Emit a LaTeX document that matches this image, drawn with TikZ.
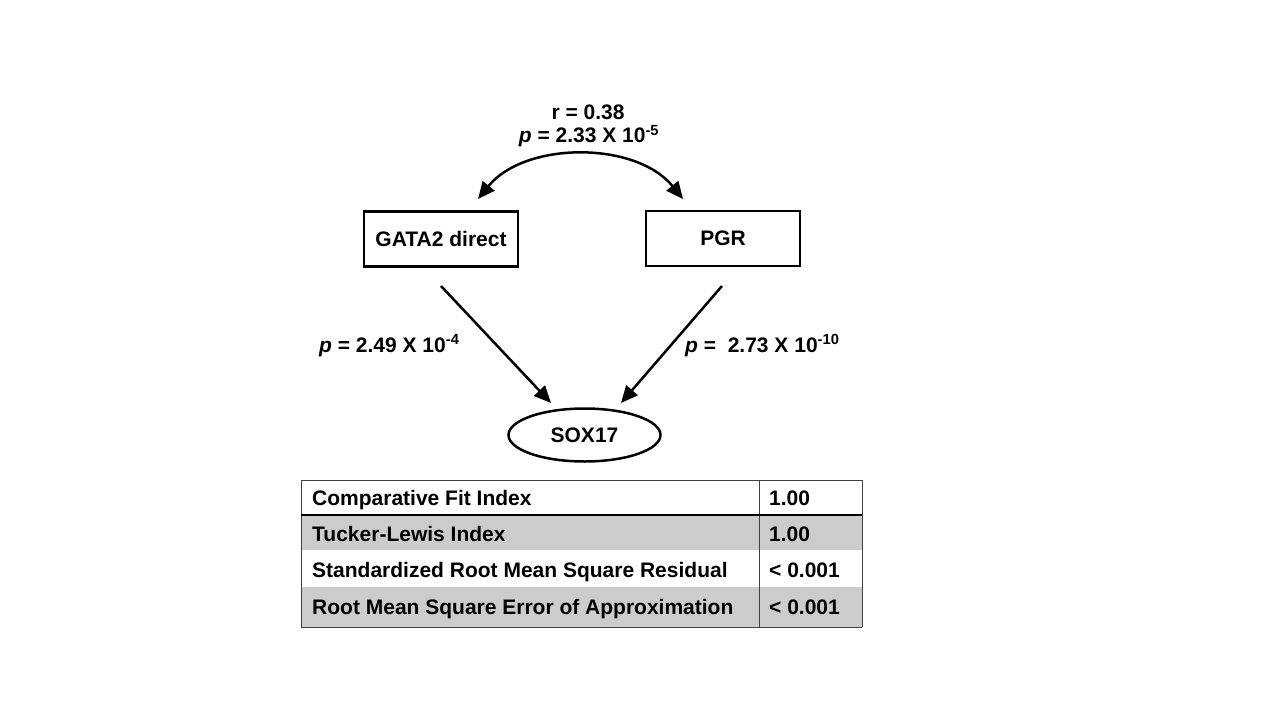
\documentclass[tikz,border=0pt]{standalone}
\usepackage{fontspec}
\setmainfont{Liberation Sans}
\usetikzlibrary{shapes.geometric,arrows.meta}
\begin{document}
\begin{tikzpicture}[x=1pt,y=-1pt,
  fnt/.style={font=\fontsize{21}{24}\selectfont\bfseries},
  lbl/.style={fnt, inner sep=0pt},
  box/.style={draw, line width=2.5pt, minimum width=154pt, minimum height=55pt, fnt},
  tip/.style={-{Triangle[length=17pt,width=15pt]}},
  conn/.style={line width=2.5pt, tip},
  grid/.style={draw=black!75, line width=0.8pt},
  cell/.style={fnt, anchor=base west, inner sep=0pt}]
\useasboundingbox (0,0) rectangle (1280,720);
\fill[white] (0,0) rectangle (1280,720);
% nodes
\node[box] (gata) at (441,239) {GATA2 direct};
\node[box] (pgr) at (723,238.5) {PGR};
\node[ellipse, draw, line width=2.5pt, minimum width=152pt, minimum height=53pt, fnt] (sox) at (584.5,435) {SOX17};
% connector endpoints
\coordinate (c1) at (478,199);
\coordinate (c2) at (683,199);
\coordinate (g1) at (441,286);
\coordinate (s1) at (551,403);
\coordinate (p1) at (722,286);
\coordinate (s2) at (621,403);
\draw[line width=2.5pt, {Triangle[length=17pt,width=15pt]}-{Triangle[length=17pt,width=15pt]}] (c1) .. controls (525,141) and (636,141) .. (c2);
\draw[conn] (g1) -- (s1);
\draw[conn] (p1) -- (s2);
% labels
\node[lbl] (r) at (588,112) {r = 0.38};
\node[lbl] (pc) at (589,136) {\textit{p} = 2.33 X 10\textsuperscript{-5}};
\node[lbl, anchor=base west] (pl) at (319,352) {\textit{p} = 2.49 X 10\textsuperscript{-4}};
\node[lbl, anchor=base west] (pr) at (685,352) {\textit{p} =\ \ 2.73 X 10\textsuperscript{-10}};
% table
\fill[black!20] (301,515) rectangle (862,550);
\fill[black!20] (301,587) rectangle (862,627);
\draw[grid] (301,480) -- (862,480);
\draw[grid] (301,627) -- (862,627);
\draw[grid] (301,480) -- (301,627);
\draw[grid] (862,480) -- (862,627);
\draw[grid] (759,480) -- (759,627);
\draw[black, line width=2.5pt] (301,515) -- (862,515);
\node[cell] (t1) at (312,505) {Comparative Fit Index};
\node[cell] (t2) at (312,541) {Tucker-Lewis Index};
\node[cell] (t3) at (312,577) {Standardized Root Mean Square Residual};
\node[cell] (t4) at (312,614) {Root Mean Square Error of Approximation};
\node[cell] (v1) at (769,505) {1.00};
\node[cell] (v2) at (769,541) {1.00};
\node[cell] (v3) at (769,577) {< 0.001};
\node[cell] (v4) at (769,614) {< 0.001};
\end{tikzpicture}
\end{document}
